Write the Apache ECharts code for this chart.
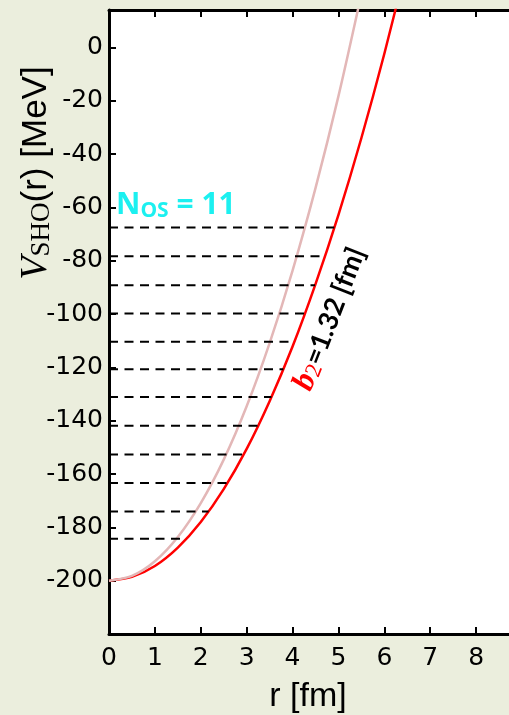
<!DOCTYPE html>
<html><head><meta charset="utf-8">
<script src="https://cdn.jsdelivr.net/npm/echarts@6/dist/echarts.min.js"></script>
<style>html,body{margin:0;padding:0;background:#EBEEDD;}#c{width:509px;height:715px;}</style>
</head><body><div id="c"></div>
<script>
// Data
const rRed  = [0, 0.5, 1, 1.5, 2, 2.5, 3, 3.5, 4, 4.5, 5, 5.5, 6, 6.5];
const vRed  = [-200, -198.6, -194.5, -187.6, -178.0, -165.7, -150.6, -132.7, -112.2, -88.8, -62.8, -34.0, -2.4, 32.0];
const rPink = [0, 0.5, 1, 1.5, 2, 2.5, 3, 3.5, 4, 4.5, 5, 5.5];
const vPink = [-200, -198.2, -192.7, -183.6, -170.9, -154.6, -134.6, -110.9, -83.7, -52.8, -18.3, 20.0];
const levelE   = [-184.3, -174.1, -163.4, -152.7, -141.9, -131.1, -120.7, -110.4, -99.8, -89.2, -78.3, -67.6];
const levelEnd = [1.69, 2.17, 2.58, 2.93, 3.25, 3.54, 3.80, 4.04, 4.27, 4.49, 4.71, 4.91];
const yTickLabels = [0, -20, -40, -60, -80, -100, -120, -140, -160, -180, -200];
const xTickLabels = [0, 1, 2, 3, 4, 5, 6, 7, 8];
const yLabel = 'V', ySub = 'SHO', yRest = '(r) [MeV]';
const xLabel = 'r [fm]';
const nosMain = 'N', nosSub = 'OS', nosRest = ' = 11';
const bMain = 'b', bSub = '2', bRest = '=1.32 [fm]';

const chart = echarts.init(document.getElementById('c'), null, {renderer: 'canvas'});

const levelSeries = levelE.map((e, i) => ({
  type: 'line',
  data: [[0, e], [levelEnd[i], e]],
  showSymbol: false,
  symbol: 'none',
  silent: true,
  z: 4,
  lineStyle: {color: '#000', width: 2, type: [9, 6.5]}
}));

const tickFont = {fontFamily: 'DejaVu Sans', fontSize: 25, color: '#000'};

chart.setOption({
  backgroundColor: '#EBEEDD',
  animation: false,
  grid: {left: 109, top: 10, height: 624, width: 413, outerBoundsMode: 'none', show: true, backgroundColor: '#fff', borderWidth: 0, containLabel: false},
  xAxis: [{
    type: 'value', min: 0, max: 9, interval: 1, position: 'bottom',
    axisLine: {show: true, onZero: false, lineStyle: {color: '#000', width: 3}},
    axisTick: {show: true, inside: true, length: 7, lineStyle: {color: '#000', width: 2}},
    axisLabel: Object.assign({margin: 12, formatter: v => xTickLabels.includes(v) ? String(v) : ''}, tickFont),
    splitLine: {show: false}
  }, {
    type: 'value', min: 0, max: 9, interval: 1, position: 'top',
    axisLine: {show: true, onZero: false, lineStyle: {color: '#000', width: 3}},
    axisTick: {show: true, inside: true, length: 7, lineStyle: {color: '#000', width: 2}},
    axisLabel: {show: false}, splitLine: {show: false}
  }],
  yAxis: [{
    type: 'value', min: -220, max: 14, interval: 20,
    axisLine: {show: true, onZero: false, lineStyle: {color: '#000', width: 3}},
    axisTick: {show: true, inside: true, length: 7, lineStyle: {color: '#000', width: 2}},
    axisLabel: Object.assign({margin: 6, formatter: v => yTickLabels.includes(v) ? String(v) : ''}, tickFont),
    splitLine: {show: false}
  }],
  series: [{
    type: 'line', data: rRed.map((r, i) => [r, vRed[i]]), showSymbol: false, symbol: 'none', clip: true, z: 2,
    smooth: 0.3,
    lineStyle: {color: '#FF0000', width: 2.5}
  }, {
    type: 'line', data: rPink.map((r, i) => [r, vPink[i]]), showSymbol: false, symbol: 'none', clip: true, z: 3,
    smooth: 0.3,
    lineStyle: {color: '#E3B7B7', width: 2.5}
  }].concat(levelSeries),
  graphic: [{
    type: 'text', x: 36, y: 173, rotation: Math.PI / 2, z: 10,
    style: {
      text: '{v|' + yLabel + '}{s|' + ySub + '}{n|' + yRest + '}',
      align: 'center', verticalAlign: 'middle',
      rich: {
        v: {fontFamily: 'Liberation Serif', fontStyle: 'italic', fontSize: 38, lineHeight: 38, fill: '#000'},
        s: {fontFamily: 'Liberation Serif', fontSize: 27, lineHeight: 26, verticalAlign: 'bottom', fill: '#000'},
        n: {fontFamily: 'Liberation Sans', fontSize: 35, lineHeight: 38, fill: '#000'}
      }
    }
  }, {
    type: 'text', x: 308, y: 697, z: 10,
    style: {text: xLabel, align: 'center', verticalAlign: 'middle', fontFamily: 'Liberation Sans', fontSize: 34, fill: '#000'}
  }, {
    type: 'text', x: 116, y: 205, z: 10,
    style: {
      text: '{n|' + nosMain + '}{s|' + nosSub + '}{n|' + nosRest + '}',
      align: 'left', verticalAlign: 'middle',
      rich: {
        n: {fontFamily: 'Open Sans', fontWeight: 'bold', fontSize: 30, lineHeight: 34, fill: '#1CF0F0'},
        s: {fontFamily: 'Open Sans', fontWeight: 'bold', fontSize: 21, lineHeight: 20, verticalAlign: 'bottom', fill: '#1CF0F0'}
      }
    }
  }, {
    type: 'text', x: 330, y: 319, rotation: 1.2, z: 10,
    style: {
      text: '{b|' + bMain + '}{s|' + bSub + '}{n|' + bRest + '}',
      align: 'center', verticalAlign: 'middle',
      rich: {
        b: {fontFamily: 'Liberation Serif', fontStyle: 'italic', fontWeight: 'bold', fontSize: 32, lineHeight: 32, fill: '#FF0000'},
        s: {fontFamily: 'Liberation Serif', fontSize: 23, lineHeight: 20, verticalAlign: 'bottom', fill: '#FF0000'},
        n: {fontFamily: 'Lato', fontWeight: 'bold', fontSize: 27, lineHeight: 32, fill: '#000'}
      }
    }
  }]
});
</script>
</body></html>
